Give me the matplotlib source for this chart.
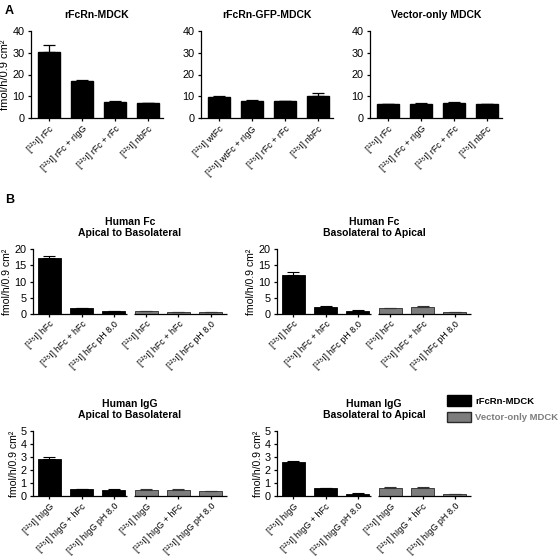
import matplotlib
matplotlib.use("Agg")
import matplotlib.pyplot as plt
from matplotlib.patches import Patch

plt.rcParams['font.family'] = ['Liberation Sans', 'DejaVu Sans']
plt.rcParams['axes.linewidth'] = 0.9
plt.rcParams['xtick.major.width'] = 0.9
plt.rcParams['ytick.major.width'] = 0.9
plt.rcParams['xtick.major.size'] = 2.5
plt.rcParams['ytick.major.size'] = 2.5
plt.rcParams['xtick.major.pad'] = 2
plt.rcParams['ytick.major.pad'] = 2

TITLE_FONT = ['Liberation Sans', 'DejaVu Sans']
I125 = '[\u00b9\u00b2\u2075I] '
YLAB = 'fmol/h/0.9 cm\u00b2'

# panel A
a_titles = ['rFcRn-MDCK', 'rFcRn-GFP-MDCK', 'Vector-only MDCK']
a_labels = [
    ['rFc', 'rFc + rIgG', 'rFc + rFc', 'nbFc'],
    ['wtFc', 'wtFc + rIgG', 'rFc + rFc', 'nbFc'],
    ['rFc', 'rFc + rIgG', 'rFc + rFc', 'nbFc'],
]
a_vals = [
    [30.5, 17.0, 7.3, 6.8],
    [9.5, 7.8, 7.8, 10.3],
    [6.3, 6.5, 6.9, 6.3],
]
a_errs = [
    [3.0, 0.3, 0.4, 0.1],
    [0.4, 0.3, 0.1, 1.2],
    [0.2, 0.3, 0.4, 0.1],
]

# panel B
b_titles = ['Human Fc\nApical to Basolateral', 'Human Fc\nBasolateral to Apical',
            'Human IgG\nApical to Basolateral', 'Human IgG\nBasolateral to Apical']
fc_labels = ['hFc', 'hFc + hFc', 'hFc pH 8.0']
igg_labels = ['hIgG', 'hIgG + hFc', 'hIgG pH 8.0']
b_fcrn = [
    [17.3, 1.7, 0.9],
    [12.0, 2.3, 1.0],
    [2.85, 0.52, 0.48],
    [2.65, 0.60, 0.18],
]
b_fcrn_err = [
    [0.6, 0.15, 0.15],
    [0.8, 0.1, 0.2],
    [0.12, 0.02, 0.03],
    [0.03, 0.04, 0.02],
]
b_vec = [
    [0.8, 0.5, 0.5],
    [1.8, 2.2, 0.6],
    [0.45, 0.50, 0.35],
    [0.65, 0.65, 0.15],
]
b_vec_err = [
    [0.2, 0.1, 0.1],
    [0.1, 0.3, 0.1],
    [0.07, 0.04, 0.02],
    [0.08, 0.04, 0.02],
]
b_ymax = [20, 20, 5, 5]
b_yticks = [[0, 5, 10, 15, 20], [0, 5, 10, 15, 20], [0, 1, 2, 3, 4, 5], [0, 1, 2, 3, 4, 5]]

BLACK = '#000000'
GREY = '#7d7d7d'

fig = plt.figure(figsize=(5.6, 5.6), dpi=100)

def px(x0, y0, w, h):
    return [x0 / 560, 1 - (y0 + h) / 560, w / 560, h / 560]

a_left = [31, 201, 370]
for i in range(3):
    ax = fig.add_axes(px(a_left[i], 31, 132, 87))
    xs = list(range(len(a_vals[i])))
    ax.bar(xs, a_vals[i], width=0.67, color=BLACK, edgecolor=BLACK)
    ax.errorbar(xs, a_vals[i], yerr=[[0] * len(xs), a_errs[i]], fmt='none',
                ecolor=BLACK, elinewidth=0.9, capsize=4.5, capthick=0.9)
    ax.set_xlim(-0.55, 3.45)
    ax.set_ylim(0, 40)
    ax.set_yticks([0, 10, 20, 30, 40])
    ax.set_xticks(xs)
    ax.set_xticklabels([I125 + s for s in a_labels[i]], rotation=45, ha='right',
                       rotation_mode='anchor', fontsize=6.5)
    ax.tick_params(axis='y', labelsize=7.8)
    ax.spines['top'].set_visible(False)
    ax.spines['right'].set_visible(False)
    ax.set_title(a_titles[i], fontsize=7.5, fontweight='bold', family=TITLE_FONT, pad=9)
    if i == 0:
        ax.set_ylabel(YLAB, fontsize=8, labelpad=2)

b_pos = [(33, 249), (277, 249), (33, 431), (277, 431)]
for i in range(4):
    x0, y0 = b_pos[i]
    ax = fig.add_axes(px(x0, y0, 194, 65))
    labels = fc_labels if i < 2 else igg_labels
    xs1 = [0, 1, 2]
    xs2 = [3, 4, 5]
    ax.bar(xs1, b_fcrn[i], width=0.72, color=BLACK, edgecolor=BLACK, linewidth=0.6)
    ax.bar(xs2, b_vec[i], width=0.72, color=GREY, edgecolor='#2a2a2a', linewidth=0.6)
    ax.errorbar(xs1, b_fcrn[i], yerr=[[0, 0, 0], b_fcrn_err[i]], fmt='none',
                ecolor=BLACK, elinewidth=0.8, capsize=4.5, capthick=0.8)
    ax.errorbar(xs2, b_vec[i], yerr=[[0, 0, 0], b_vec_err[i]], fmt='none',
                ecolor='#333333', elinewidth=0.8, capsize=4.5, capthick=0.8)
    ax.set_xlim(-0.5, 5.5)
    ax.set_ylim(0, b_ymax[i])
    ax.set_yticks(b_yticks[i])
    ax.set_xticks(xs1 + xs2)
    ax.set_xticklabels([I125 + s for s in labels + labels], rotation=45, ha='right',
                       rotation_mode='anchor', fontsize=6.5)
    ax.tick_params(axis='y', labelsize=7.8)
    ax.tick_params(axis='x', length=2)
    for s in ['top', 'right', 'bottom']:
        ax.spines[s].set_visible(False)
    # broken x axis between the two cell lines
    ax.plot([-0.5, 2.42], [0, 0], color='black', lw=0.9, clip_on=False,
            solid_capstyle='butt')
    ax.plot([2.62, 5.5], [0, 0], color='black', lw=0.9, clip_on=False,
            solid_capstyle='butt')
    ax.set_title(b_titles[i], fontsize=7.5, fontweight='bold', family=TITLE_FONT,
                 pad=9, linespacing=1.2)
    ax.set_ylabel(YLAB, fontsize=7.6, labelpad=1.5)

handles = [Patch(facecolor=BLACK, edgecolor=BLACK),
           Patch(facecolor=GREY, edgecolor='#2a2a2a')]
fig.legend(handles, ['rFcRn-MDCK', 'Vector-only MDCK'], loc='upper left',
           bbox_to_anchor=(447 / 560, 1 - 395 / 560), frameon=False,
           borderpad=0, borderaxespad=0, handlelength=2.5, handleheight=1.4,
           handletextpad=0.5, labelspacing=0.6,
           labelcolor=['black', GREY],
           prop={'family': TITLE_FONT, 'weight': 'bold', 'size': 6.8})

fig.text(5 / 560, 1 - 11 / 560, 'A', fontsize=9, fontweight='bold', va='center')
fig.text(5 / 560, 1 - 200 / 560, 'B', fontsize=9, fontweight='bold', va='center')

fig.savefig('out.png', dpi=100)
